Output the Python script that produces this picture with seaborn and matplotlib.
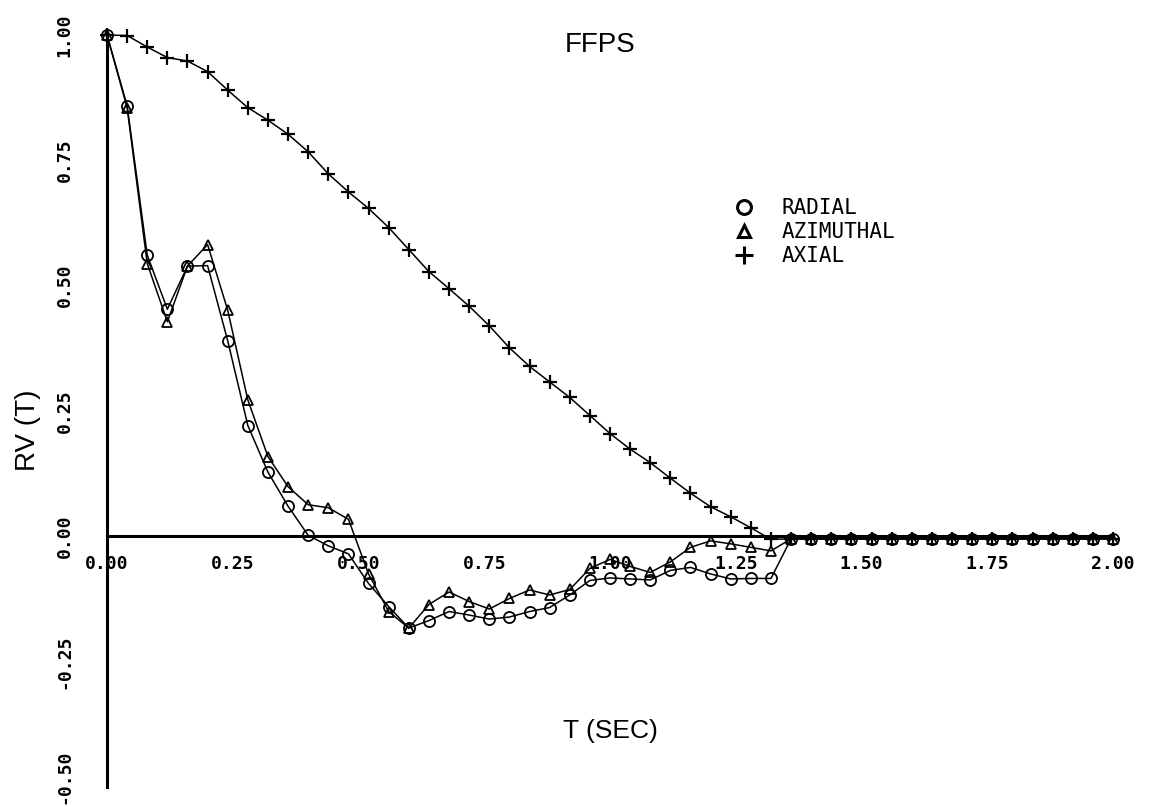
import matplotlib
matplotlib.use("Agg")
import matplotlib.pyplot as plt
from matplotlib.lines import Line2D
from matplotlib.transforms import ScaledTranslation
import seaborn as sns

# Time base (seconds)
time_s = [0.00, 0.04, 0.08, 0.12, 0.16, 0.20, 0.24, 0.28, 0.32, 0.36,
          0.40, 0.44, 0.48, 0.52, 0.56, 0.60, 0.64, 0.68, 0.72, 0.76,
          0.80, 0.84, 0.88, 0.92, 0.96, 1.00, 1.04, 1.08, 1.12, 1.16,
          1.20, 1.24, 1.28, 1.32, 1.36, 1.40, 1.44, 1.48, 1.52, 1.56,
          1.60, 1.64, 1.68, 1.72, 1.76, 1.80, 1.84, 1.88, 1.92, 1.96,
          2.00]

# RV(T) for each velocity component
radial = [1.000, 0.859, 0.561, 0.453, 0.539, 0.540, 0.390, 0.221, 0.128, 0.060,
          0.002, -0.019, -0.035, -0.094, -0.140, -0.183, -0.168, -0.150, -0.157, -0.165,
          -0.161, -0.150, -0.142, -0.117, -0.088, -0.083, -0.085, -0.087, -0.068, -0.062,
          -0.075, -0.085, -0.084, -0.084, -0.005, -0.005, -0.005, -0.005, -0.005, -0.005,
          -0.005, -0.005, -0.005, -0.005, -0.005, -0.005, -0.005, -0.005, -0.005, -0.005,
          -0.005]

azimuthal = [1.000, 0.855, 0.544, 0.428, 0.539, 0.582, 0.451, 0.272, 0.159, 0.099,
             0.063, 0.057, 0.034, -0.075, -0.150, -0.183, -0.136, -0.111, -0.130, -0.145,
             -0.124, -0.107, -0.117, -0.106, -0.064, -0.046, -0.060, -0.072, -0.051, -0.022,
             -0.009, -0.015, -0.022, -0.029, -0.005, -0.005, -0.005, -0.005, -0.005, -0.005,
             -0.005, -0.005, -0.005, -0.005, -0.005, -0.005, -0.005, -0.005, -0.005, -0.005,
             -0.005]

axial = [1.000, 0.999, 0.976, 0.955, 0.948, 0.927, 0.890, 0.855, 0.830, 0.802,
         0.767, 0.723, 0.687, 0.654, 0.616, 0.572, 0.528, 0.494, 0.459, 0.420,
         0.376, 0.339, 0.308, 0.277, 0.241, 0.205, 0.174, 0.147, 0.116, 0.086,
         0.059, 0.039, 0.017, -0.006, -0.005, -0.005, -0.005, -0.005, -0.005, -0.005,
         -0.005, -0.005, -0.005, -0.005, -0.005, -0.005, -0.005, -0.005, -0.005, -0.005,
         -0.005]

x_ticks = [0.00, 0.25, 0.50, 0.75, 1.00, 1.25, 1.50, 1.75, 2.00]
y_ticks = [-0.50, -0.25, 0.00, 0.25, 0.50, 0.75, 1.00]
series_names = ["RADIAL", "AZIMUTHAL", "AXIAL"]

sns.set_style("white")
plt.rcParams["font.family"] = ["DejaVu Sans"]
plt.rcParams["text.color"] = "black"

W, H = 1163, 807
fig = plt.figure(figsize=(W / 100, H / 100), dpi=100)
ax = fig.add_axes([107 / W, 1 - 787 / H, (1113 - 107) / W, (787 - 35) / H])

line_kw = dict(color="black", linewidth=1.1, clip_on=False, markeredgecolor="black")
sns.lineplot(x=time_s, y=radial, ax=ax, marker="o", markersize=8,
             markerfacecolor="none", markeredgewidth=1.3, **line_kw)
sns.lineplot(x=time_s, y=azimuthal, ax=ax, marker="^", markersize=7,
             markerfacecolor="none", markeredgewidth=1.3, **line_kw)
sns.lineplot(x=time_s, y=axial, ax=ax, marker="+", markersize=10,
             markeredgewidth=1.6, **line_kw)

ax.set_xlim(0, 2.0)
ax.set_ylim(-0.5, 1.0)
for side in ("top", "right"):
    ax.spines[side].set_visible(False)
for side in ("left", "bottom"):
    ax.spines[side].set_position(("data", 0))
    ax.spines[side].set_linewidth(2.2)
    ax.spines[side].set_color("black")

mono = dict(family="DejaVu Sans Mono", weight="bold", size=13)
ax.set_xticks(x_ticks)
ax.set_xticklabels([f"{v:.2f}" for v in x_ticks], fontdict=mono)
ax.set_yticks(y_ticks)
ax.set_yticklabels([f"{v:.2f}" for v in y_ticks], fontdict=mono, rotation=90, va="center")
ax.tick_params(axis="x", direction="inout", length=11, width=1.5, pad=8, colors="black")
ax.tick_params(axis="y", direction="inout", length=12, width=1.5, pad=18, colors="black")
ax.set_xlabel("")
ax.set_ylabel("")

# keep the lowest y label inside the canvas
low = ax.get_yticklabels()[0]
low.set_transform(low.get_transform() + ScaledTranslation(0, 0.10, fig.dpi_scale_trans))

fig.text(600 / W, 1 - 45 / H, "FFPS", ha="center", va="center",
         family="Liberation Sans", size=20, color="black")
fig.text(610 / W, 1 - 731 / H, "T (SEC)", ha="center", va="center",
         family="Liberation Sans", size=19, color="black")
fig.text(28 / W, 1 - 430 / H, "RV (T)", ha="center", va="center", rotation=90,
         family="Liberation Sans", size=20, color="black")

handles = [
    Line2D([], [], color="black", linestyle="none", marker="o", markersize=10,
           markerfacecolor="none", markeredgewidth=2.2),
    Line2D([], [], color="black", linestyle="none", marker="^", markersize=9,
           markerfacecolor="none", markeredgewidth=2.2),
    Line2D([], [], color="black", linestyle="none", marker="+", markersize=13,
           markeredgewidth=2.2),
]
leg = ax.legend(handles, series_names, loc="upper left",
                bbox_to_anchor=(734 / W, 1 - 198 / H), bbox_transform=fig.transFigure,
                frameon=False, borderpad=0, borderaxespad=0, handlelength=1.0,
                handletextpad=1.3, labelspacing=0.2, numpoints=1,
                prop=dict(family="DejaVu Sans Mono", size=15))
for txt in leg.get_texts():
    txt.set_color("black")

fig.savefig("out.png", dpi=100, facecolor="white")
